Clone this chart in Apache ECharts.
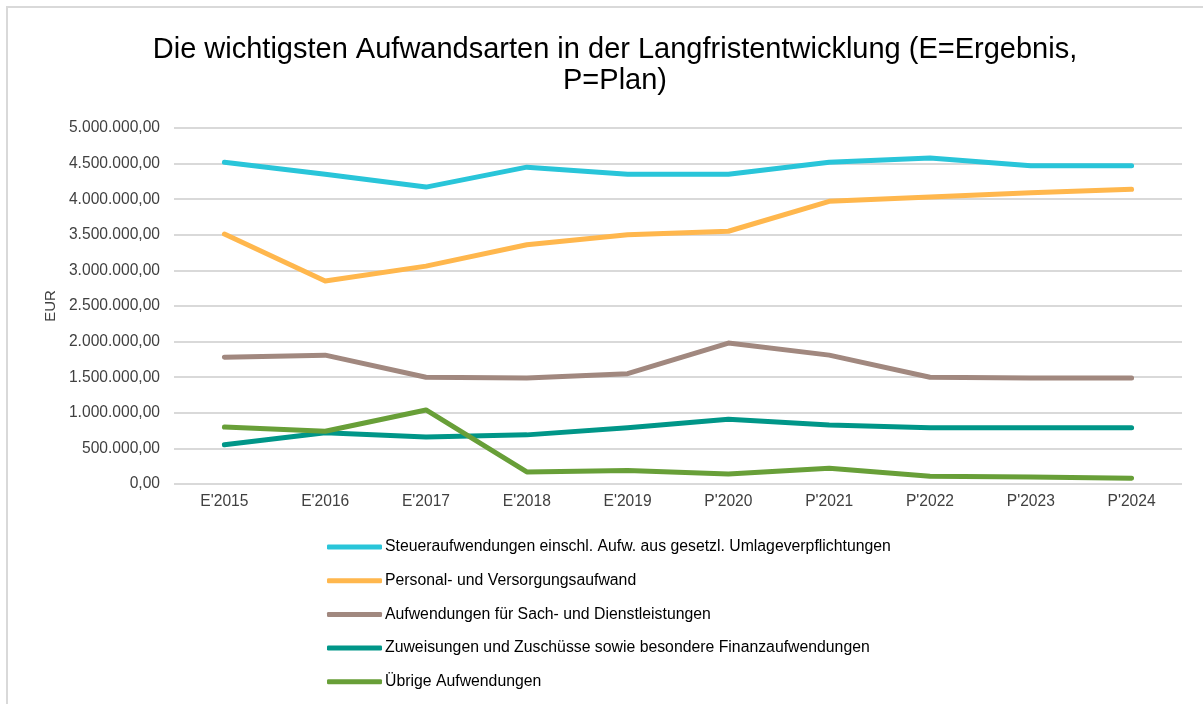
<!DOCTYPE html>
<html>
<head>
  <meta charset="utf-8">
  <title>Aufwandsarten</title>
  <script src="https://cdn.jsdelivr.net/npm/echarts@6/dist/echarts.min.js"></script>
  <style>
    html, body { margin: 0; padding: 0; background: #fff; }
    #main { width: 1203px; height: 704px; }
  </style>
</head>
<body>
  <div id="main"></div>
  <script>
    // Jahre (E = Ergebnis, P = Plan)
    var years = ["E'2015", "E'2016", "E'2017", "E'2018", "E'2019", "P'2020", "P'2021", "P'2022", "P'2023", "P'2024"];

    var steuer = [4520000, 4350000, 4170000, 4450000, 4350000, 4350000, 4520000, 4580000, 4470000, 4470000];
    var personal = [3510000, 2850000, 3060000, 3360000, 3500000, 3550000, 3970000, 4030000, 4090000, 4140000];
    var sach = [1780000, 1810000, 1500000, 1490000, 1550000, 1980000, 1810000, 1500000, 1490000, 1490000];
    var zuweisungen = [550000, 720000, 660000, 690000, 790000, 910000, 830000, 790000, 790000, 790000];
    var uebrige = [800000, 740000, 1040000, 170000, 190000, 140000, 220000, 110000, 100000, 80000];

    var names = [
      'Steueraufwendungen einschl. Aufw. aus gesetzl. Umlageverpflichtungen',
      'Personal- und Versorgungsaufwand',
      'Aufwendungen für Sach- und Dienstleistungen',
      'Zuweisungen und Zuschüsse sowie besondere Finanzaufwendungen',
      'Übrige Aufwendungen'
    ];
    var colors = ['#29c5d9', '#ffb74d', '#a1887f', '#009688', '#689f38'];
    var values = [steuer, personal, sach, zuweisungen, uebrige];

    var font = "'Liberation Sans', Arial, sans-serif";

    // deutsches Zahlenformat 5.000.000,00
    function formatEur(v) {
      var s = Math.round(v).toString().replace(/\B(?=(\d{3})+(?!\d))/g, '.');
      return s + ',00';
    }

    var myChart = echarts.init(document.getElementById('main'));

    var option = {
      backgroundColor: '#fff',
      animation: false,
      textStyle: { fontFamily: font },
      graphic: [{
        type: 'rect',
        shape: { x: 7, y: 7, width: 1220, height: 720 },
        style: { fill: 'none', stroke: '#d9d9d9', lineWidth: 2 },
        silent: true
      }],
      title: {
        text: 'Die wichtigsten Aufwandsarten in der Langfristentwicklung (E=Ergebnis,\nP=Plan)',
        left: 610,
        textAlign: 'center',
        top: 29,
        textStyle: { fontFamily: font, fontSize: 29, fontWeight: 'normal', color: '#000', lineHeight: 31 }
      },
      legend: {
        orient: 'vertical',
        left: 327,
        top: 539,
        padding: 0,
        icon: 'roundRect',
        itemWidth: 55,
        itemHeight: 5,
        itemGap: 17.7,
        textStyle: { fontFamily: font, fontSize: 15.8, color: '#000', lineHeight: 16, padding: [0, 0, 0, -2] },
        data: names
      },
      grid: { left: 174, right: 21, top: 128, bottom: 220 },
      xAxis: {
        type: 'category',
        data: years,
        boundaryGap: true,
        axisLine: { show: false },
        axisTick: { show: false },
        axisLabel: { color: '#404040', fontSize: 15.6, fontFamily: font, margin: 10 }
      },
      yAxis: {
        type: 'value',
        min: 0,
        max: 5000000,
        interval: 500000,
        name: 'EUR',
        nameLocation: 'middle',
        nameGap: 115,
        nameTextStyle: { color: '#404040', fontSize: 15, fontFamily: font },
        axisLabel: { color: '#404040', fontSize: 15.6, fontFamily: font, margin: 14, formatter: formatEur },
        splitLine: { lineStyle: { color: '#d9d9d9', width: 2 } }
      },
      series: values.map(function (d, i) {
        return {
          name: names[i],
          type: 'line',
          data: d,
          symbol: 'none',
          color: colors[i],
          lineStyle: { width: 5, color: colors[i], cap: 'round', join: 'round' }
        };
      })
    };

    myChart.setOption(option);
  </script>
</body>
</html>
